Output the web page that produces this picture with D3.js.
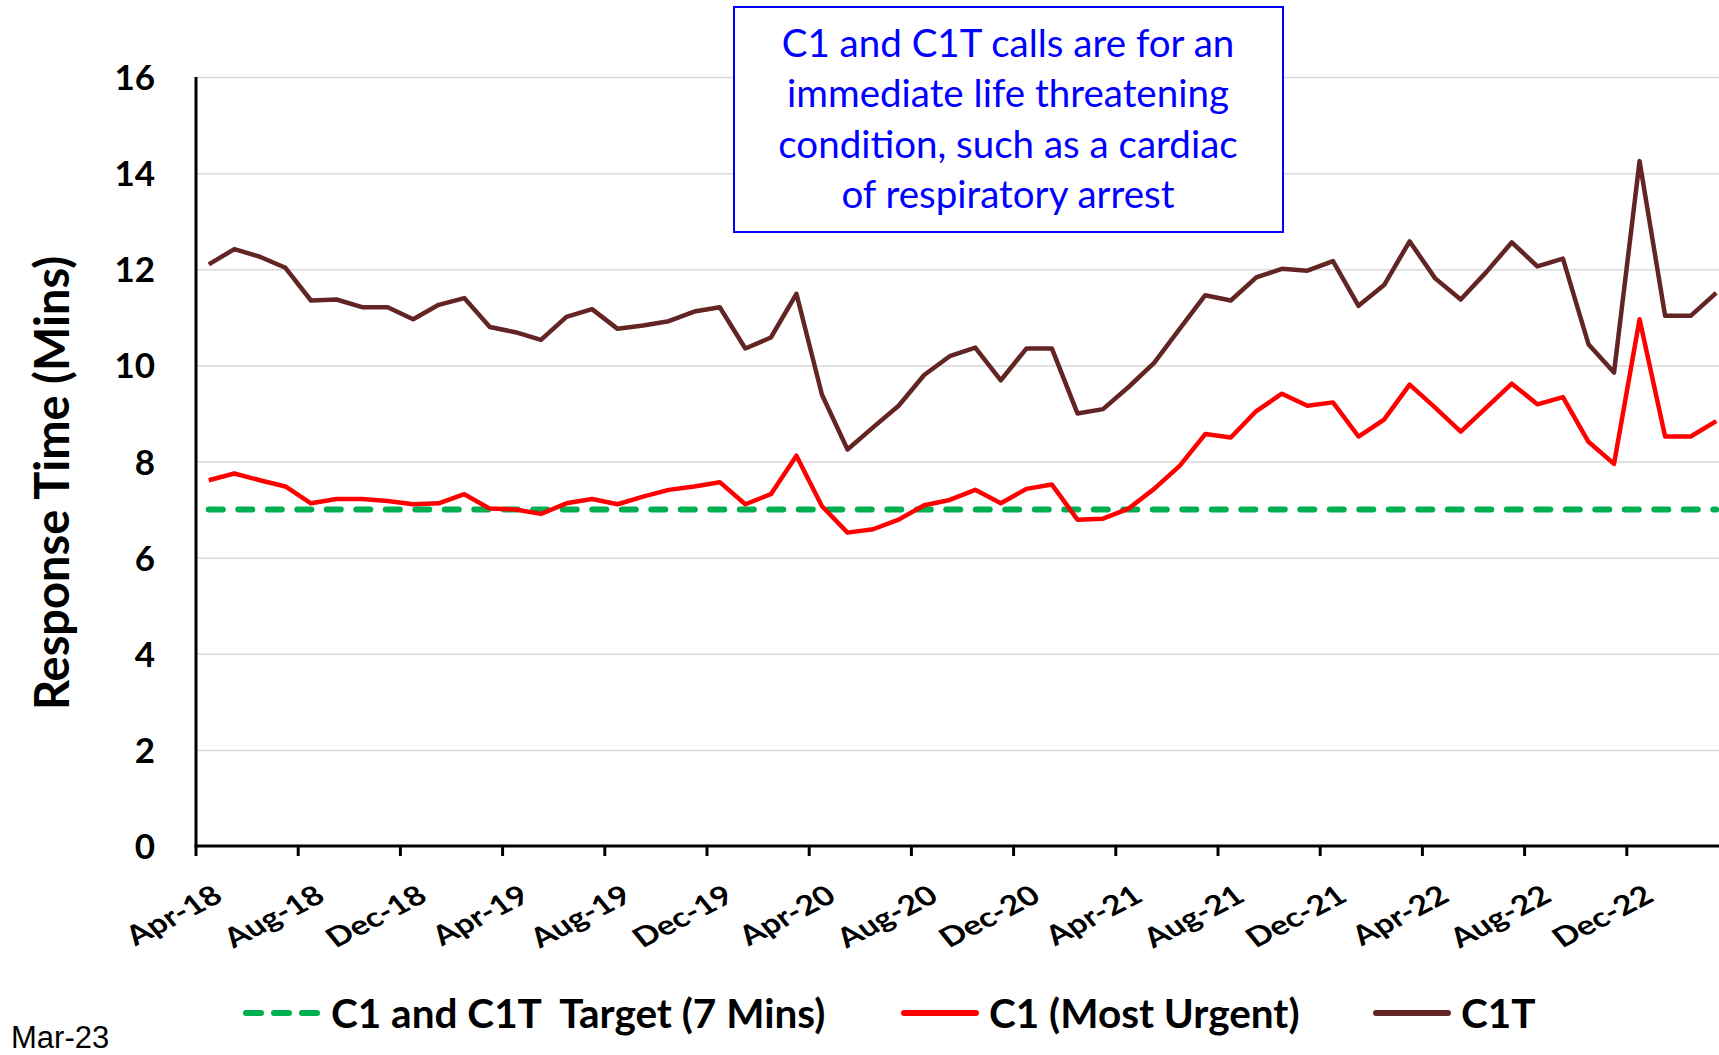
<!DOCTYPE html>
<html>
<head>
  <meta charset="utf-8">
  <style>
    html, body {
      margin: 0;
      overflow: hidden;
      background: #fff;
    }
    svg {
      display: block;
    }
    text {
      font-family: Lato, "Open Sans", sans-serif;
    }
    .grid line {
      stroke: #d9d9d9;
      stroke-width: 1.5px;
    }
    .legend text {
      white-space: pre;
    }
  </style>
  <script src="https://d3js.org/d3.v7.min.js"></script>
</head>
<body>
  <svg id="svg" width="1719" height="1055"></svg>
  <script>
    // monthly categories, Apr-18 .. Mar-23
    var months = [
      "Apr-18","May-18","Jun-18","Jul-18","Aug-18","Sep-18","Oct-18","Nov-18","Dec-18","Jan-19","Feb-19","Mar-19",
      "Apr-19","May-19","Jun-19","Jul-19","Aug-19","Sep-19","Oct-19","Nov-19","Dec-19","Jan-20","Feb-20","Mar-20",
      "Apr-20","May-20","Jun-20","Jul-20","Aug-20","Sep-20","Oct-20","Nov-20","Dec-20","Jan-21","Feb-21","Mar-21",
      "Apr-21","May-21","Jun-21","Jul-21","Aug-21","Sep-21","Oct-21","Nov-21","Dec-21","Jan-22","Feb-22","Mar-22",
      "Apr-22","May-22","Jun-22","Jul-22","Aug-22","Sep-22","Oct-22","Nov-22","Dec-22","Jan-23","Feb-23","Mar-23"
    ];

    // C1 (Most Urgent) mean response time, minutes
    var c1 = [
      7.61, 7.75, 7.61, 7.48, 7.13, 7.22, 7.22, 7.18, 7.11, 7.13, 7.32, 7.02,
      7.00, 6.91, 7.13, 7.22, 7.11, 7.27, 7.41, 7.48, 7.57, 7.11, 7.32, 8.12,
      7.07, 6.52, 6.59, 6.79, 7.09, 7.20, 7.41, 7.13, 7.43, 7.52, 6.79, 6.81,
      7.02, 7.43, 7.91, 8.57, 8.50, 9.05, 9.41, 9.16, 9.23, 8.52, 8.87, 9.60,
      9.12, 8.62, 9.12, 9.62, 9.19, 9.34, 8.41, 7.95, 10.96, 8.52, 8.52, 8.84
    ];

    // C1T mean response time, minutes
    var c1t = [
      12.10, 12.42, 12.26, 12.03, 11.35, 11.37, 11.21, 11.21, 10.96, 11.26, 11.40, 10.80,
      10.69, 10.53, 11.01, 11.17, 10.76, 10.83, 10.92, 11.12, 11.21, 10.35, 10.58, 11.49,
      9.39, 8.25, 8.71, 9.16, 9.80, 10.19, 10.37, 9.69, 10.35, 10.35, 9.00, 9.09,
      9.55, 10.05, 10.76, 11.46, 11.35, 11.83, 12.01, 11.97, 12.17, 11.24, 11.67, 12.58,
      11.81, 11.37, 11.94, 12.56, 12.06, 12.22, 10.44, 9.85, 14.25, 11.03, 11.03, 11.51
    ];

    var targetValue = 7;
    var yTicks = [0, 2, 4, 6, 8, 10, 12, 14, 16];
    var labelMonths = months.filter(function(d, i){ return i % 4 === 0; });

    var noteLines = [
      "C1 and C1T calls are for an",
      "immediate life threatening",
      "condition, such as a cardiac",
      "of respiratory arrest"
    ];

    var svg = d3.select("svg");

    var plotLeft = 196, plotTop = 77, plotBottom = 846;
    var plotWidth = 1533;

    var x = d3.scaleBand().domain(months).range([plotLeft, plotLeft + plotWidth]).padding(0);
    var y = d3.scaleLinear().domain([0, 16]).range([plotBottom, plotTop]);
    var cx = function(m){ return x(m) + x.bandwidth() / 2; };

    // gridlines
    svg.append("g")
      .attr("class", "grid")
      .attr("transform", "translate(" + plotLeft + ",0)")
      .call(d3.axisLeft(y).tickValues(yTicks.slice(1)).tickSize(-plotWidth).tickFormat(""))
      .call(function(g){ g.select(".domain").remove(); });

    // y tick labels
    svg.append("g")
      .attr("transform", "translate(" + (plotLeft - 41) + ",0)")
      .call(d3.axisLeft(y).tickValues(yTicks).tickSize(0).tickPadding(0))
      .call(function(g){
        g.select(".domain").remove();
        g.selectAll("text")
          .attr("dy", "0.36em")
          .style("font-family", "Lato")
          .style("font-size", "35px")
          .style("font-weight", "bold")
          .attr("fill", "#000");
      });

    // y axis title
    svg.append("text")
      .attr("transform", "translate(69,483) rotate(-90)")
      .attr("text-anchor", "middle")
      .style("font-size", "47px")
      .style("font-weight", "bold")
      .text("Response Time (Mins)");

    // series
    var line = d3.line()
      .x(function(d, i){ return cx(months[i]); })
      .y(function(d){ return y(d); });

    svg.append("path")
      .datum(months.map(function(){ return targetValue; }))
      .attr("d", line)
      .attr("fill", "none")
      .attr("stroke", "#00b050")
      .attr("stroke-width", 6)
      .attr("stroke-linecap", "round")
      .attr("stroke-dasharray", "14,15.5");

    svg.append("path")
      .datum(c1)
      .attr("d", line)
      .attr("fill", "none")
      .attr("stroke", "#ff0000")
      .attr("stroke-width", 4.5)
      .attr("stroke-linejoin", "round");

    svg.append("path")
      .datum(c1t)
      .attr("d", line)
      .attr("fill", "none")
      .attr("stroke", "#632523")
      .attr("stroke-width", 4.5)
      .attr("stroke-linejoin", "round");

    // axis lines
    svg.append("line")
      .attr("x1", plotLeft).attr("x2", plotLeft)
      .attr("y1", plotTop).attr("y2", plotBottom + 1.5)
      .attr("stroke", "#000").attr("stroke-width", 3);
    svg.append("line")
      .attr("x1", plotLeft - 1.5).attr("x2", plotLeft + plotWidth)
      .attr("y1", plotBottom).attr("y2", plotBottom)
      .attr("stroke", "#000").attr("stroke-width", 3);

    // x ticks at category boundaries
    svg.append("g").selectAll("line")
      .data(labelMonths)
      .enter().append("line")
      .attr("x1", function(d){ return x(d); })
      .attr("x2", function(d){ return x(d); })
      .attr("y1", plotBottom)
      .attr("y2", plotBottom + 10)
      .attr("stroke", "#000")
      .attr("stroke-width", 3);

    // x labels
    svg.append("g").selectAll("text")
      .data(labelMonths)
      .enter().append("text")
      .attr("transform", function(d){
        return "translate(" + (cx(d) + 16) + "," + (plotBottom + 54) + ") scale(1.25,1) rotate(-33)";
      })
      .attr("text-anchor", "end")
      .style("font-size", "27px")
      .style("font-weight", "bold")
      .text(function(d){ return d; });

    // note box
    var note = svg.append("g");
    note.append("rect")
      .attr("x", 734).attr("y", 7)
      .attr("width", 549).attr("height", 225)
      .attr("fill", "#fff")
      .attr("stroke", "#0000ff")
      .attr("stroke-width", 2);
    note.selectAll("text")
      .data(noteLines)
      .enter().append("text")
      .attr("x", 1008)
      .attr("y", function(d, i){ return 57 + i * 50.4; })
      .attr("text-anchor", "middle")
      .attr("fill", "#0000ff")
      .style("font-size", "38.5px")
      .text(function(d){ return d; });

    // legend
    var legendItems = [
      {label: "C1 and C1T  Target (7 Mins)", color: "#00b050", dash: "15,13", x: 243},
      {label: "C1 (Most Urgent)", color: "#ff0000", dash: null, x: 901},
      {label: "C1T", color: "#632523", dash: null, x: 1373}
    ];
    var legend = svg.append("g").attr("class", "legend");
    var li = legend.selectAll("g")
      .data(legendItems)
      .enter().append("g")
      .attr("transform", function(d){ return "translate(" + d.x + ",1013)"; });
    li.append("line")
      .attr("x1", 3).attr("x2", 75)
      .attr("stroke", function(d){ return d.color; })
      .attr("stroke-width", 6)
      .attr("stroke-linecap", "round")
      .attr("stroke-dasharray", function(d){ return d.dash; });
    li.append("text")
      .attr("x", 88)
      .attr("dy", "0.36em")
      .style("font-size", "40.5px")
      .style("font-weight", "bold")
      .text(function(d){ return d.label; });

    svg.append("text")
      .attr("x", 11)
      .attr("y", 1048)
      .style("font-family", "'Liberation Sans', Arial, sans-serif")
      .style("font-size", "31px")
      .text("Mar-23");
  </script>
</body>
</html>
